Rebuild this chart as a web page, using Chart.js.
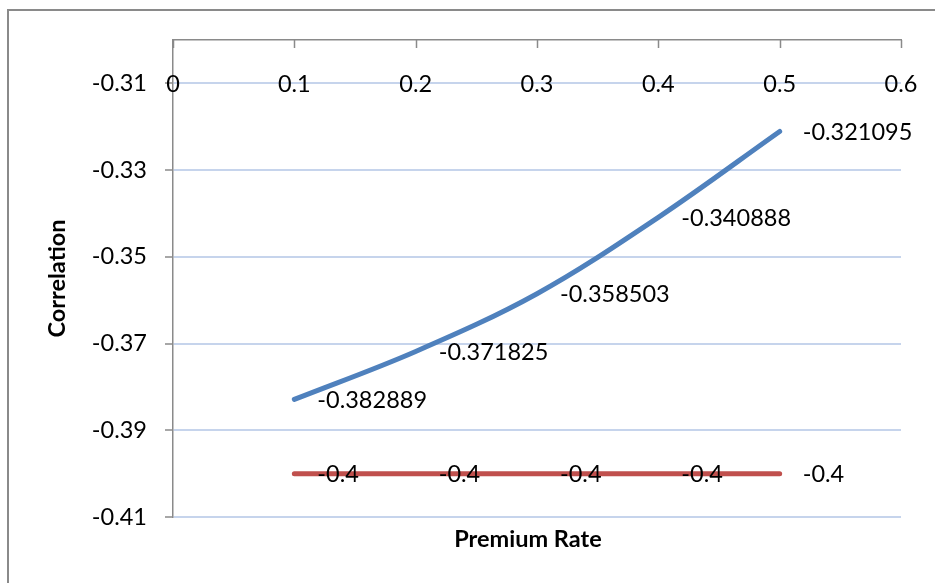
<!DOCTYPE html>
<html>
<head>
<meta charset="utf-8">
<script src="https://cdn.jsdelivr.net/npm/chart.js@4/dist/chart.umd.min.js"></script>
<style>
html,body{margin:0;padding:0;background:#fff;}
#wrap{width:935px;height:583px;position:relative;}
</style>
</head>
<body>
<div id="wrap"><canvas id="c" width="935" height="583"></canvas></div>
<script>
const premiumRates = [0.1, 0.2, 0.3, 0.4, 0.5];
const correlationValues = [-0.382889, -0.371825, -0.358503, -0.340888, -0.321095];
const boundValues = [-0.4, -0.4, -0.4, -0.4, -0.4];
const xTickValues = [0, 0.1, 0.2, 0.3, 0.4, 0.5, 0.6];
const yTickValues = [-0.41, -0.39, -0.37, -0.35, -0.33, -0.31];
const xTitle = "Premium Rate";
const yTitle = "Correlation";

const FONT = "Lato, 'Open Sans', sans-serif";
const AXIS_GRAY = "#8a8a8a";

const decorPlugin = {
  id: 'decor',
  beforeDraw(chart) {
    const ctx = chart.ctx;
    ctx.save();
    ctx.strokeStyle = AXIS_GRAY;
    ctx.lineWidth = 2;
    ctx.strokeRect(8, 10, 1200, 1200);
    ctx.restore();
  },
  afterDraw(chart) {
    const ctx = chart.ctx;
    const xs = chart.scales.x, ys = chart.scales.y;
    const area = chart.chartArea;
    ctx.save();
    // x tick marks pointing down from the top axis line
    ctx.strokeStyle = AXIS_GRAY;
    ctx.lineWidth = 1.5;
    xTickValues.forEach(v => {
      const px = Math.round(xs.getPixelForValue(v)) + 0.5;
      ctx.beginPath();
      ctx.moveTo(px, area.top);
      ctx.lineTo(px, area.top + 8);
      ctx.stroke();
    });
    // x tick labels, drawn on the top gridline
    ctx.fillStyle = '#000';
    ctx.font = "23.5px " + FONT;
    ctx.textAlign = 'center';
    ctx.textBaseline = 'middle';
    const labelY = ys.getPixelForValue(yTickValues[yTickValues.length - 1]) + 1;
    xTickValues.forEach(v => {
      ctx.fillText(String(v), xs.getPixelForValue(v), labelY);
    });
    // data labels to the right of each point
    ctx.textAlign = 'left';
    chart.data.datasets.forEach((ds, i) => {
      const meta = chart.getDatasetMeta(i);
      meta.data.forEach((pt, j) => {
        ctx.fillText(String(ds.data[j].y), pt.x + 23, pt.y + 1);
      });
    });
    // x axis title
    ctx.font = "bold 23.5px " + FONT;
    ctx.textAlign = 'center';
    ctx.fillText(xTitle, (area.left + area.right) / 2 - 9, 539);
    ctx.restore();
  }
};

const ctx = document.getElementById('c').getContext('2d');
new Chart(ctx, {
  type: 'line',
  data: {
    datasets: [
      {
        label: 'Correlation',
        data: premiumRates.map((x, i) => ({x: x, y: correlationValues[i]})),
        borderColor: '#4f81bd',
        borderWidth: 5,
        pointRadius: 0,
        tension: 0.35,
        borderCapStyle: 'round',
        fill: false
      },
      {
        label: 'Bound',
        data: premiumRates.map((x, i) => ({x: x, y: boundValues[i]})),
        borderColor: '#c0504d',
        borderWidth: 5,
        pointRadius: 0,
        tension: 0,
        borderCapStyle: 'round',
        fill: false
      }
    ]
  },
  options: {
    responsive: false,
    animation: false,
    layout: { padding: { left: 0, top: 0, right: 34, bottom: 66 } },
    plugins: { legend: { display: false }, tooltip: { enabled: false } },
    scales: {
      x: {
        type: 'linear',
        position: 'top',
        min: 0,
        max: 0.6,
        afterFit: s => { s.height = 40; },
        afterBuildTicks: s => { s.ticks = xTickValues.map(v => ({value: v})); },
        ticks: { display: false },
        grid: { display: false, drawTicks: false },
        border: { display: true, color: AXIS_GRAY, width: 1.5 }
      },
      y: {
        type: 'linear',
        position: 'left',
        min: -0.41,
        max: -0.30,
        afterFit: s => { s.width = 173; },
        afterBuildTicks: s => { s.ticks = yTickValues.map(v => ({value: v})); },
        ticks: {
          color: '#000',
          font: { family: FONT, size: 23.5 },
          padding: 18,
          callback: v => String(Math.round(v * 100) / 100)
        },
        grid: {
          color: '#c6d4ec',
          lineWidth: 2,
          tickColor: AXIS_GRAY,
          tickLength: 8,
          tickWidth: 1.5
        },
        border: { display: true, color: AXIS_GRAY, width: 1.5 },
        title: {
          display: true,
          text: yTitle,
          color: '#000',
          font: { family: FONT, size: 23.5, weight: 'bold' },
          padding: { top: 43, bottom: 0 }
        }
      }
    }
  },
  plugins: [decorPlugin]
});
</script>
</body>
</html>
